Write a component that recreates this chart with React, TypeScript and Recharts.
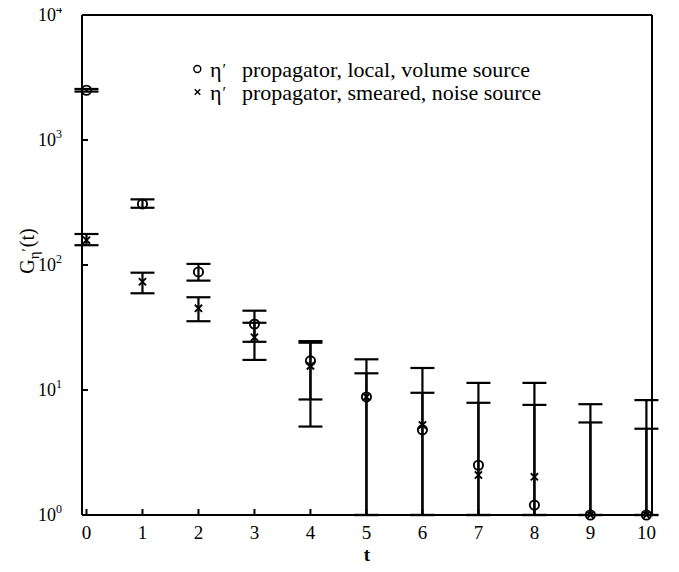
import React from 'react';
import { ScatterChart, Scatter, XAxis, YAxis, ErrorBar, ReferenceLine } from 'recharts';

// ---- data ----
const tValues = [0, 1, 2, 3, 4, 5, 6, 7, 8, 9, 10];

// eta' propagator, local, volume source (open circles)
const localValues = [2500, 308, 88, 33.7, 17.1, 8.8, 4.8, 2.5, 1.2, 1.0, 1.0];
const localLower = [2440, 287, 75, 24.3, 8.4, 0, 0, 0, 0, 0, 0];
const localUpper = [2560, 335, 102, 43.1, 24.6, 17.6, 15.0, 11.4, 11.4, 7.7, 8.3];

// eta' propagator, smeared, noise source (crosses)
const smearedValues = [158, 73.5, 45, 26.4, 15.6, 8.8, 5.25, 2.09, 2.02, 1.0, 1.0];
const smearedLower = [144, 59.4, 35.5, 17.4, 5.1, 0, 0, 0, 0, 0, 0];
const smearedUpper = [177, 86.8, 55.2, 34.5, 23.9, 13.6, 9.5, 7.9, 7.6, 5.5, 4.9];

const xTicks = [0, 1, 2, 3, 4, 5, 6, 7, 8, 9, 10];
const yTicks = [1, 10, 100, 1000, 10000];
const yTickExponents = ['0', '1', '2', '3', '4'];
const xDomain: [number, number] = [-0.08, 10.1];
const yDomain: [number, number] = [1, 10000];

const legendLabels = ['propagator, local, volume source', 'propagator, smeared, noise source'];

const FONT = '"Liberation Serif", "Times New Roman", Times, serif';

const build = (vals: number[], lo: number[], hi: number[]) =>
  tValues.map((t, i) => ({
    t,
    v: vals[i],
    err: [vals[i] - Math.max(lo[i], yDomain[0]), hi[i] - vals[i]],
  }));

const localData = build(localValues, localLower, localUpper);
const smearedData = build(smearedValues, smearedLower, smearedUpper);

const CircleShape = (props: any) => (
  <circle cx={props.cx} cy={props.cy} r={4.6} fill="none" stroke="#000" strokeWidth={1.9} />
);

const CrossShape = (props: any) => {
  const { cx, cy } = props;
  const s = 3.6;
  return (
    <path
      d={`M${cx - s},${cy - s}L${cx + s},${cy + s}M${cx - s},${cy + s}L${cx + s},${cy - s}`}
      stroke="#000"
      strokeWidth={1.9}
      fill="none"
    />
  );
};

const EmptyShape = () => <g />;

const XTick = (props: any) => {
  const { x, y, payload } = props;
  return (
    <text x={x} y={y + 14} textAnchor="middle" fontFamily={FONT} fontSize={19} fill="#000">
      {payload.value}
    </text>
  );
};

const YTick = (props: any) => {
  const { x, y, payload } = props;
  const idx = yTicks.indexOf(payload.value);
  return (
    <text x={x} y={y} dy={6} textAnchor="end" fontFamily={FONT} fontSize={18} fill="#000">
      10
      <tspan dy={-8} fontSize={12}>
        {yTickExponents[idx]}
      </tspan>
    </text>
  );
};

const XLabel = (props: any) => {
  const vb = props.viewBox || {};
  const cx = vb.x + vb.width / 2;
  return (
    <text x={cx} y={vb.y + 46} textAnchor="middle" fontFamily={FONT} fontSize={19} fontWeight="bold" fill="#000">
      t
    </text>
  );
};

const YLabel = (props: any) => {
  const vb = props.viewBox || {};
  const bx = vb.x + 34;
  const by = vb.y + vb.height / 2 - 14;
  return (
    <text
      x={bx}
      y={by}
      transform={`rotate(-90 ${bx} ${by})`}
      textAnchor="middle"
      fontFamily={FONT}
      fontSize={20}
      fill="#000"
    >
      G
      <tspan dy={5} fontSize={15}>η</tspan>
      <tspan dy={-7} fontSize={15}>′</tspan>
      <tspan dy={2} dx={1}>(t)</tspan>
    </text>
  );
};

const axisStroke = { stroke: '#000', strokeWidth: 2 };

const LegendRow = ({ y, kind, label }: { y: number; kind: 'circle' | 'cross'; label: string }) => (
  <g>
    {kind === 'circle' ? (
      <circle cx={197.3} cy={y - 8} r={3.5} fill="none" stroke="#000" strokeWidth={1.4} />
    ) : (
      <path
        d={`M194.7,${y - 10.8}L200.3,${y - 5.2}M194.7,${y - 5.2}L200.3,${y - 10.8}`}
        stroke="#000"
        strokeWidth={1.4}
      />
    )}
    <text x={210} y={y} fontFamily={FONT} fontSize={22} fill="#000">
      η<tspan dx={1} dy={-2} fontSize={16}>′</tspan>
    </text>
    <text x={242} y={y} fontFamily={FONT} fontSize={22} fill="#000">
      {label}
    </text>
  </g>
);

export default function App() {
  return (
    <div style={{ position: 'relative', width: 679, height: 564, margin: '-8px 0 0 -8px' }}>
      <ScatterChart width={679} height={564} margin={{ top: 14, right: 26, bottom: 0, left: 0 }}>
        <XAxis
          xAxisId="b"
          dataKey="t"
          type="number"
          domain={xDomain}
          ticks={xTicks}
          height={49}
          tickSize={-6}
          tickMargin={16}
          tick={<XTick />}
          axisLine={axisStroke}
          tickLine={axisStroke}
          label={<XLabel />}
        />
        <XAxis
          xAxisId="top"
          orientation="top"
          dataKey="t"
          type="number"
          domain={xDomain}
          ticks={xTicks}
          height={1}
          tickSize={-6}
          tick={false}
          axisLine={axisStroke}
          tickLine={axisStroke}
        />
        <YAxis
          yAxisId="l"
          dataKey="v"
          type="number"
          scale="log"
          domain={yDomain}
          ticks={yTicks}
          width={82}
          tickSize={-6}
          tickMargin={26}
          tick={<YTick />}
          axisLine={axisStroke}
          tickLine={axisStroke}
          label={<YLabel />}
        />
        <YAxis
          yAxisId="r"
          orientation="right"
          dataKey="v"
          type="number"
          scale="log"
          domain={yDomain}
          ticks={yTicks}
          width={1}
          tickSize={-6}
          tick={false}
          axisLine={axisStroke}
          tickLine={axisStroke}
        />
        <ReferenceLine xAxisId="b" yAxisId="l" y={yDomain[1]} stroke="#000" strokeWidth={2} />
        <ReferenceLine xAxisId="b" yAxisId="l" x={xDomain[1]} stroke="#000" strokeWidth={2} />
        <Scatter
          data={localData}
          xAxisId="top"
          yAxisId="r"
          shape={EmptyShape}
          isAnimationActive={false}
          legendType="none"
        />
        <Scatter
          name="local, volume source"
          data={localData}
          xAxisId="b"
          yAxisId="l"
          shape={CircleShape}
          isAnimationActive={false}
        >
          <ErrorBar dataKey="err" direction="y" width={12} stroke="#000" strokeWidth={2.2} />
        </Scatter>
        <Scatter
          name="smeared, noise source"
          data={smearedData}
          xAxisId="b"
          yAxisId="l"
          shape={CrossShape}
          isAnimationActive={false}
        >
          <ErrorBar dataKey="err" direction="y" width={12} stroke="#000" strokeWidth={2.2} />
        </Scatter>
      </ScatterChart>
      <svg
        width={679}
        height={564}
        style={{ position: 'absolute', left: 0, top: 0, pointerEvents: 'none' }}
      >
        <LegendRow y={77} kind="circle" label={legendLabels[0]} />
        <LegendRow y={100} kind="cross" label={legendLabels[1]} />
      </svg>
    </div>
  );
}
